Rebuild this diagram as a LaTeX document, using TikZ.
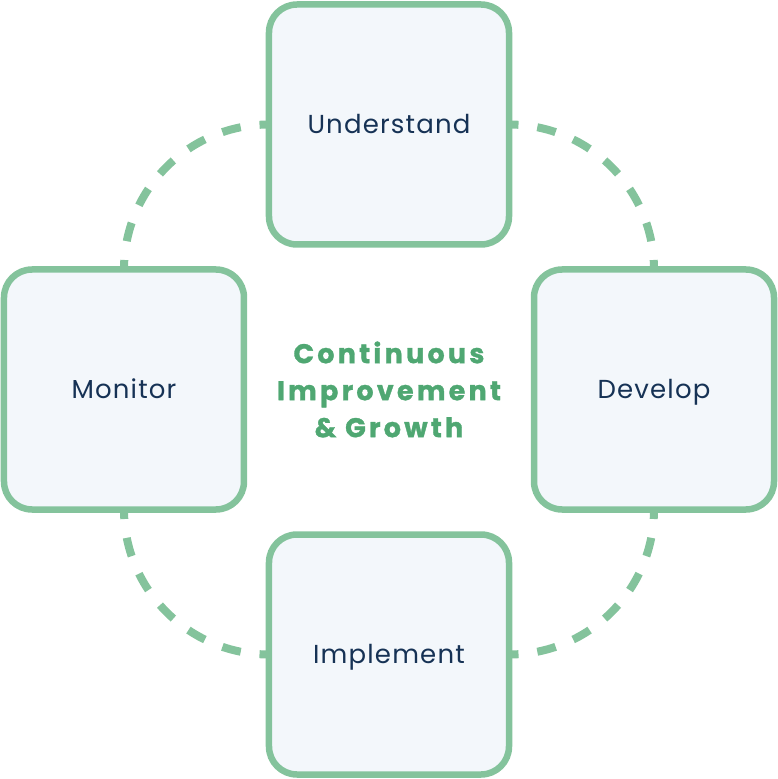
\documentclass[tikz,border=0pt]{standalone}
\usepackage{fontspec}
\setmainfont{Poppins}[LetterSpace=4.5]
\newfontfamily\titlefont{Poppins}[LetterSpace=12, BoldFeatures={FakeBold=1.2}]
\definecolor{boxline}{HTML}{84C39C}
\definecolor{boxfill}{HTML}{F3F7FB}
\definecolor{labeltext}{HTML}{163255}
\definecolor{titlegreen}{HTML}{4FA772}
\begin{document}
\begin{tikzpicture}[x=1pt,y=1pt,
  stepbox/.style={draw=boxline, fill=boxfill, line width=6.5pt, rounded corners=28pt,
    minimum width=240pt, minimum height=240pt, outer sep=0pt, inner sep=0pt,
    text=labeltext, text height=18pt, text depth=0pt, font=\fontsize{26}{30}\selectfont},
  ring/.style={draw=boxline, line width=8pt, dash pattern=on 18.98pt off 18.98pt, dash phase=9.49pt},
  titletext/.style={text=titlegreen, align=center, font=\titlefont\bfseries\fontsize{27}{37}\selectfont}]
\useasboundingbox (-389,-389.5) rectangle (389,389.5);
\coordinate (uw) at (-120,265);
\coordinate (ue) at (120,265);
\coordinate (ds) at (265,-120);
\coordinate (iw) at (-120,-265);
\draw[ring] (uw) arc[start angle=90, end angle=180, radius=145];
\draw[ring] (ue) arc[start angle=90, end angle=0, radius=145];
\draw[ring] (ds) arc[start angle=0, end angle=-90, radius=145];
\draw[ring] (iw) arc[start angle=-90, end angle=-180, radius=145];
\node[stepbox] (U) at (0,265) {Understand};
\node[stepbox] (M) at (-265,0) {Monitor};
\node[stepbox] (D) at (265,0) {Develop};
\node[stepbox] (I) at (0,-265) {Implement};
\node[titletext] (T) at (0,0) {Continuous\\Improvement\\\& Growth};
\end{tikzpicture}
\end{document}
